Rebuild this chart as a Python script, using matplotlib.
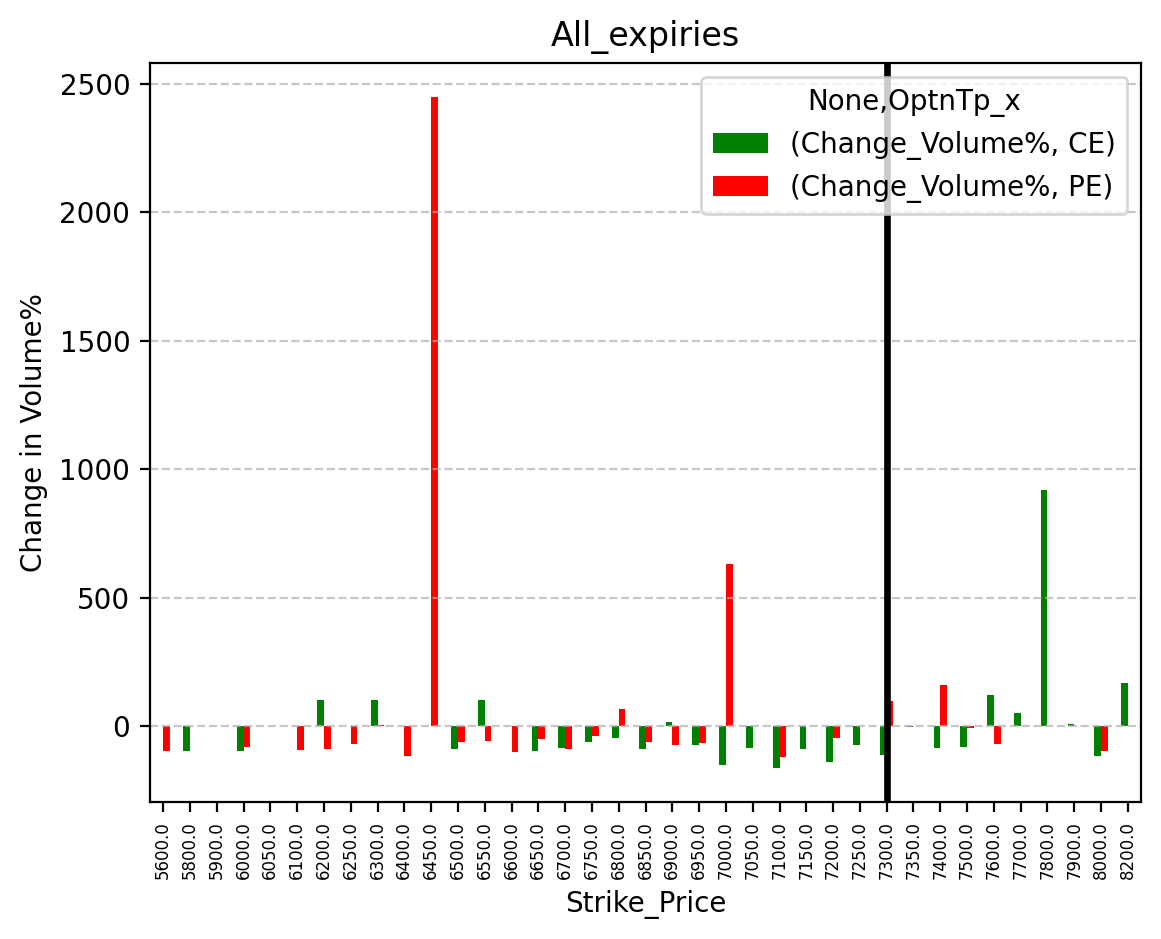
import numpy as np
import matplotlib
matplotlib.use("Agg")
import matplotlib.pyplot as plt

strikes = [5600, 5800, 5900, 6000, 6050, 6100, 6200, 6250, 6300, 6400, 6450, 6500,
           6550, 6600, 6650, 6700, 6750, 6800, 6850, 6900, 6950, 7000, 7050, 7100,
           7150, 7200, 7250, 7300, 7350, 7400, 7500, 7600, 7700, 7800, 7900, 8000, 8200]
nan = np.nan
ce_change = [nan, -97, nan, -97, nan, nan, 101, nan, 101, nan, nan, -90,
             101, nan, -97, -86, -62, -47, -90, 16, -74, -152, -86, -164,
             -90, -140, -74, -113, -4, -86, -82, 121, 51, 919, 8, -117, 167]
pe_change = [-97, nan, nan, -82, nan, -93, -90, -70, 3, -117, 2450, -62,
             -58, -101, -51, -90, -39, 66, -62, -74, -66, 631, nan, -121,
             nan, -47, nan, 97, nan, 160, -8, -70, nan, nan, nan, -97, nan]
tick_labels = [f"{s:.1f}" for s in strikes]
atm_strike = 7300.0

fig = plt.figure(figsize=(5.805, 4.695), dpi=200)
ax = fig.add_axes([0.129, 0.146, 0.854, 0.787])

x = np.arange(len(strikes))
w = 0.25
ax.bar(x - w / 2, ce_change, width=w, color="green", label="(Change_Volume%, CE)")
ax.bar(x + w / 2, pe_change, width=w, color="red", label="(Change_Volume%, PE)")
ax.set_xlim(-0.5, len(strikes) - 0.5)
ax.set_xticks(x)
ax.set_xticklabels(tick_labels, rotation=90, fontsize=6)
ax.grid(axis="y", linestyle="--", alpha=0.7)
ax.axvline(tick_labels.index(f"{atm_strike:.1f}"), color="black", linewidth=2.4)
ax.set_title("All_expiries")
ax.set_xlabel("Strike_Price")
ax.set_ylabel("Change in Volume%")
ax.legend(title="None,OptnTp_x", loc="upper right")

fig.savefig("out.png", dpi=200)
